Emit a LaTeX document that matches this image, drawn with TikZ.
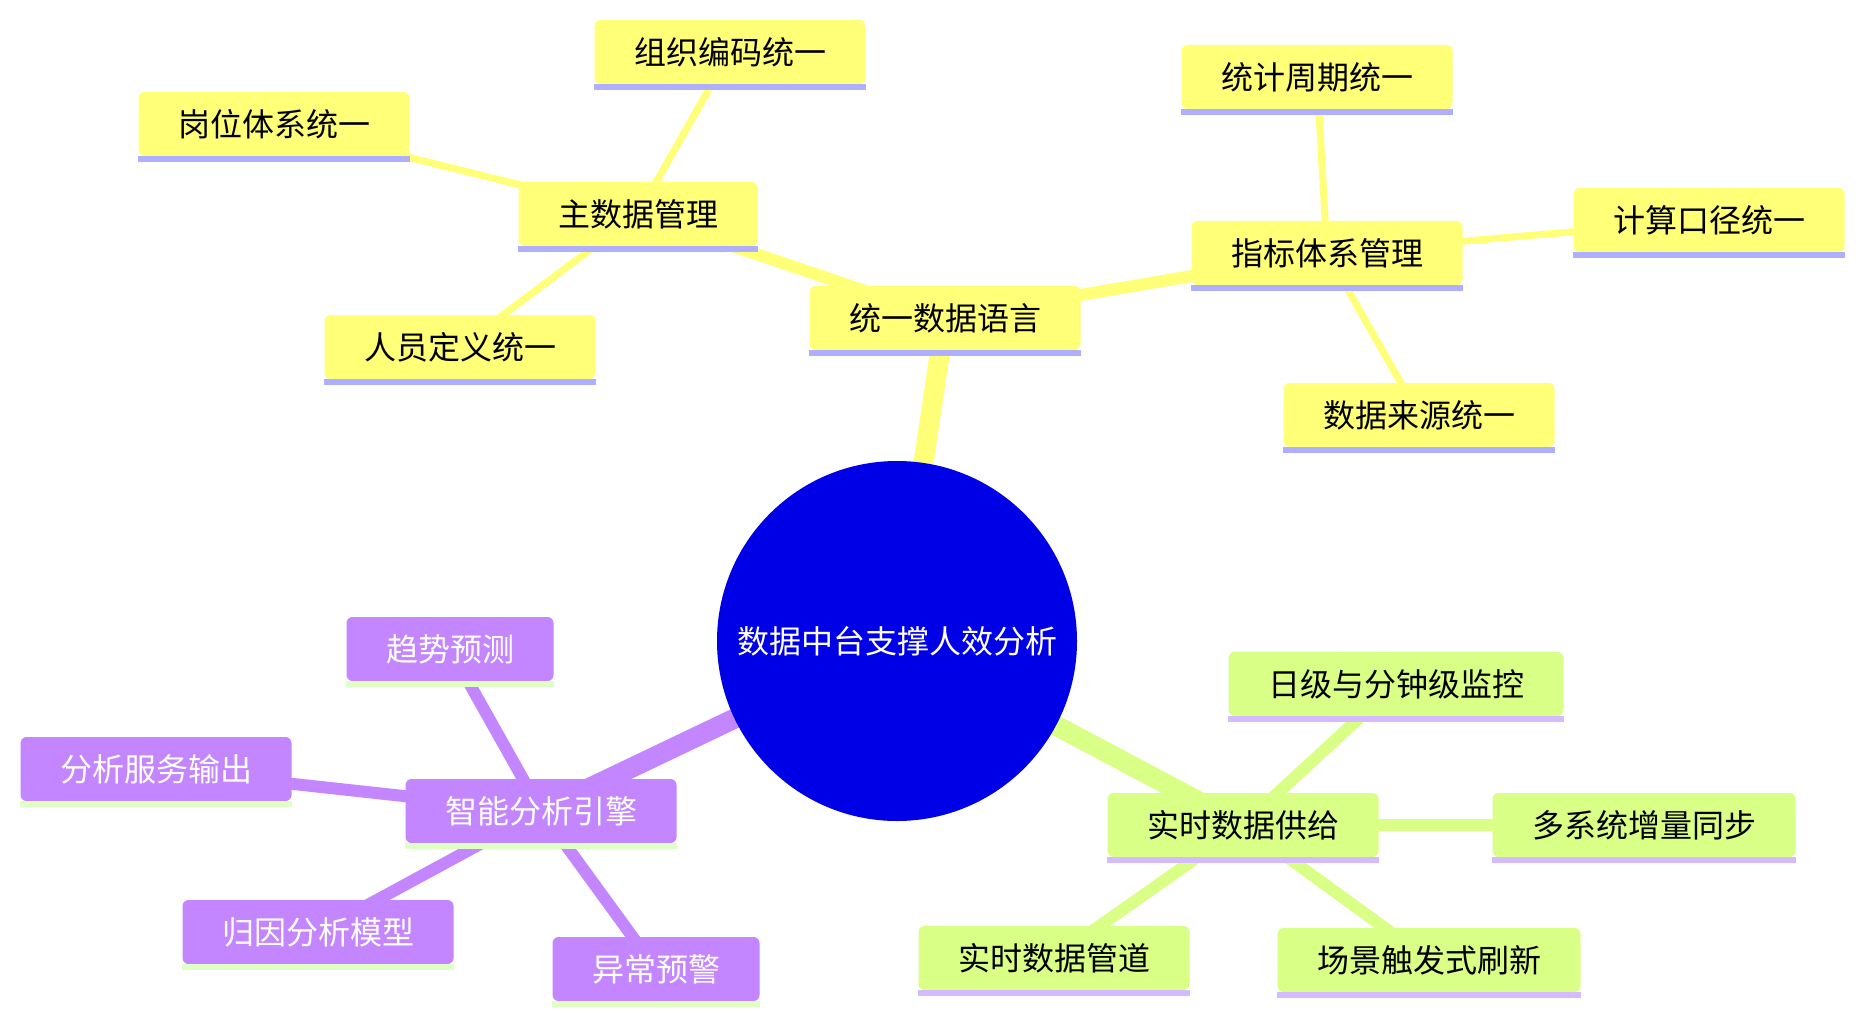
\documentclass[tikz,border=0pt]{standalone}
\usepackage{fontspec}
\newfontfamily\cjk{Noto Sans CJK SC}
\usetikzlibrary{backgrounds}
\definecolor{ylw}{HTML}{FFFF78}
\definecolor{ylwS}{HTML}{AFAFFF}
\definecolor{grn}{HTML}{D9FF86}
\definecolor{grnS}{HTML}{D4BAFF}
\definecolor{pur}{HTML}{C386FF}
\definecolor{purS}{HTML}{DEFFC6}
\definecolor{rootc}{HTML}{0000E6}
\tikzset{
  box/.style={rectangle, rounded corners=6pt, minimum height=64pt, inner xsep=39.5pt, inner ysep=0pt,
    font=\cjk\fontsize{32}{38}\selectfont},
  ybox/.style={box, fill=ylw, text=black},
  gbox/.style={box, fill=grn, text=black},
  pbox/.style={box, fill=pur, text=white},
  rootnode/.style={circle, fill=rootc, text=white, minimum size=360pt, inner sep=0pt,
    font=\cjk\fontsize{32}{38}\selectfont},
  trunk/.style={line width=20pt},
  midline/.style={line width=12pt},
  leafline/.style={line width=7pt},
}
\begin{document}
\begin{tikzpicture}[x=1pt,y=-1pt]
\useasboundingbox (0,0) rectangle (1865,1024);
% root
\node[rootnode] (root) at (897,641) {数据中台支撑人效分析};
% yellow section
\node[ybox] (ty) at (945,318) {统一数据语言};
\node[ybox] (zs) at (638,214) {主数据管理};
\node[ybox] (zz) at (730,52) {组织编码统一};
\node[ybox] (gw) at (274,124) {岗位体系统一};
\node[ybox] (ry) at (460,347) {人员定义统一};
\node[ybox] (zb) at (1327,253) {指标体系管理};
\node[ybox] (tj) at (1317,77) {统计周期统一};
\node[ybox] (js) at (1709,220) {计算口径统一};
\node[ybox] (sj) at (1419,415) {数据来源统一};
% green section
\node[gbox] (ss) at (1243,825) {实时数据供给};
\node[gbox] (rj) at (1396,684) {日级与分钟级监控};
\node[gbox] (dx) at (1644,825) {多系统增量同步};
\node[gbox] (gd) at (1054,958) {实时数据管道};
\node[gbox] (cj) at (1429,960) {场景触发式刷新};
% purple section
\node[pbox] (zn) at (541,811) {智能分析引擎};
\node[pbox] (qs) at (450,649) {趋势预测};
\node[pbox] (fx) at (156,769) {分析服务输出};
\node[pbox] (gy) at (318,932) {归因分析模型};
\node[pbox] (yc) at (656,969) {异常预警};
% stripes
\foreach \n/\c in {ty/ylwS,zs/ylwS,zz/ylwS,gw/ylwS,ry/ylwS,zb/ylwS,tj/ylwS,js/ylwS,sj/ylwS,
  ss/grnS,rj/grnS,dx/grnS,gd/grnS,cj/grnS,
  zn/purS,qs/purS,fx/purS,gy/purS,yc/purS}
  \fill[\c] (\n.south west) rectangle ([yshift=-6pt]\n.south east);
% edges
\begin{pgfonlayer}{background}
\draw[ylw,trunk] (root.center) -- (ty.center);
\draw[ylw,midline] (ty.center) -- (zs.center);
\draw[ylw,midline] (ty.center) -- (zb.center);
\draw[ylw,leafline] (zs.center) -- (zz.center);
\draw[ylw,leafline] (zs.center) -- (gw.center);
\draw[ylw,leafline] (zs.center) -- (ry.center);
\draw[ylw,leafline] (zb.center) -- (tj.center);
\draw[ylw,leafline] (zb.center) -- (js.center);
\draw[ylw,leafline] (zb.center) -- (sj.center);
\draw[grn,trunk] (root.center) -- (ss.center);
\draw[grn,midline] (ss.center) -- (rj.center);
\draw[grn,midline] (ss.center) -- (dx.center);
\draw[grn,midline] (ss.center) -- (gd.center);
\draw[grn,midline] (ss.center) -- (cj.center);
\draw[pur,trunk] (root.center) -- (zn.center);
\draw[pur,midline] (zn.center) -- (qs.center);
\draw[pur,midline] (zn.center) -- (fx.center);
\draw[pur,midline] (zn.center) -- (gy.center);
\draw[pur,midline] (zn.center) -- (yc.center);
\end{pgfonlayer}
\end{tikzpicture}
\end{document}
